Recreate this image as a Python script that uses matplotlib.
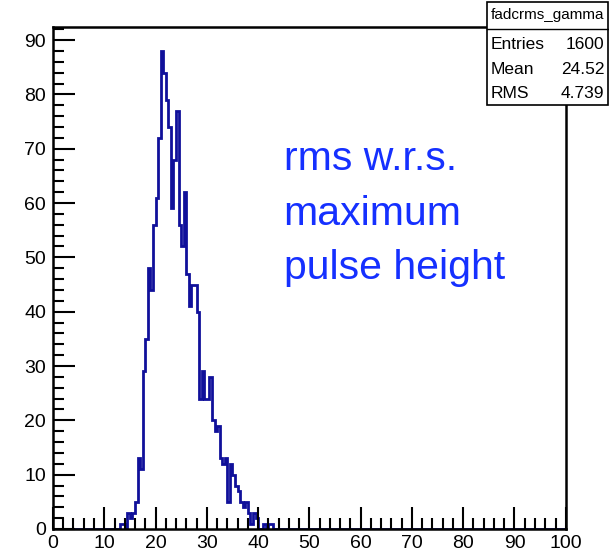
import numpy as np
import matplotlib
matplotlib.use("Agg")
import matplotlib.pyplot as plt
from matplotlib.patches import Rectangle
from matplotlib.lines import Line2D
from matplotlib.ticker import MultipleLocator

plt.rcParams['font.family'] = ['Liberation Sans', 'DejaVu Sans']

# fadcrms_gamma: 200 bins of width 0.5 over [0, 100]
first_edge = 13.0
counts = [1, 1, 0, 3, 2, 3, 5, 13, 11, 29,
          35, 48, 44, 56, 61, 72, 88, 84, 79, 74,
          59, 68, 77, 56, 52, 62, 47, 41, 45, 45,
          40, 24, 29, 24, 24, 28, 20, 18, 19, 13,
          12, 13, 5, 12, 10, 8, 7, 5, 4, 5,
          3, 1, 3, 2, 0, 0, 1, 0, 1, 1]
stat_labels = ["Entries", "Mean", "RMS"]
stat_values = ["1600", "24.52", "4.739"]
note_lines = ["rms w.r.s.", "maximum", "pulse height"]

edges = np.arange(0, 100.5, 0.5)
h = np.zeros(len(edges) - 1)
i0 = int(first_edge / 0.5)
h[i0:i0 + len(counts)] = counts

fig = plt.figure(figsize=(6.09, 5.48), dpi=100)
ax = fig.add_axes([0.087, 0.0347, 0.842, 0.916])

ax.stairs(h, edges, color='#10109a', linewidth=2.0, baseline=0)

ax.set_xlim(0, 100)
ax.set_ylim(0, h.max() * 1.05)

ax.xaxis.set_major_locator(MultipleLocator(10))
ax.xaxis.set_minor_locator(MultipleLocator(2))
ax.yaxis.set_major_locator(MultipleLocator(10))
ax.yaxis.set_minor_locator(MultipleLocator(2))
ax.tick_params(which='both', direction='in', top=False, right=False,
               width=1.5, labelsize=14, colors='black')
ax.tick_params(which='major', length=16)
ax.tick_params(which='minor', length=8)
ax.tick_params(axis='x', pad=4)
ax.tick_params(axis='y', pad=5)
for s in ax.spines.values():
    s.set_linewidth(1.8)

for k, line in enumerate(note_lines):
    ax.text(45, 66 - 10 * k, line, color='#1530ff', fontsize=29.5,
            va='baseline', ha='left')

# stats box
bx0, by0, bw, bh = 0.7997, 0.8084, 0.1987, 0.188
fig.add_artist(Rectangle((bx0, by0), bw, bh, transform=fig.transFigure,
                         facecolor='white', edgecolor='black', linewidth=1.2,
                         zorder=5))
fig.add_artist(Line2D([bx0, bx0 + bw], [0.947, 0.947], transform=fig.transFigure,
                      color='black', linewidth=1.0, zorder=6))
fig.text(bx0 + bw / 2, 0.972, "fadcrms_gamma", ha='center', va='center',
         fontsize=11, zorder=7)
for k, (lab, val) in enumerate(zip(stat_labels, stat_values)):
    y = 0.919 - 0.045 * k
    fig.text(0.806, y, lab, ha='left', va='center', fontsize=12.5, zorder=7)
    fig.text(0.992, y, val, ha='right', va='center', fontsize=12.5, zorder=7)

fig.savefig("out.png", dpi=100)
